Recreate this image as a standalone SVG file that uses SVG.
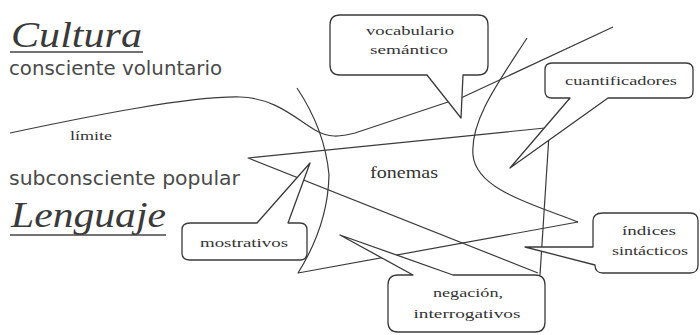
<svg xmlns="http://www.w3.org/2000/svg" width="700" height="335" viewBox="0 0 700 335">
<style>
.ln{fill:none;stroke:#3a3a3a;stroke-width:1.2;stroke-linejoin:round}
.co{fill:#fff;stroke:#3a3a3a;stroke-width:1.3;stroke-linejoin:round}
.big{font-family:"Liberation Serif","DejaVu Serif",serif;font-style:italic;font-size:36px;fill:#3a3a3a}
.sub{font-family:"DejaVu Sans","Liberation Sans",sans-serif;font-size:19px;fill:#4a4a4a}
.ct{font-family:"Liberation Serif","DejaVu Serif",serif;font-size:13px;fill:#333;text-anchor:middle}
.ul{stroke:#444;stroke-width:1.5}
</style>
<rect width="700" height="335" fill="#fff"/>
<g id="titles">
<text class="big" x="11" y="47" textLength="131" lengthAdjust="spacingAndGlyphs">Cultura</text>
<line class="ul" x1="10" y1="52" x2="143" y2="52"/>
<text class="sub" x="9" y="75" textLength="213" lengthAdjust="spacingAndGlyphs">consciente voluntario</text>
<text class="sub" x="9" y="185" textLength="231" lengthAdjust="spacingAndGlyphs">subconsciente popular</text>
<text class="big" x="11" y="227" textLength="155" lengthAdjust="spacingAndGlyphs">Lenguaje</text>
<line class="ul" x1="10" y1="235" x2="166" y2="235"/>
<text x="70" y="140" font-family="Liberation Serif, serif" font-size="12" fill="#333" textLength="42" lengthAdjust="spacingAndGlyphs">límite</text>
<text x="370" y="178" font-family="Liberation Serif, serif" font-size="17" fill="#333" textLength="68" lengthAdjust="spacingAndGlyphs">fonemas</text>
</g>
<g id="connectors">
<path class="ln" d="M10,133 C90,116 190,96 240,97 C275,98 295,118 315,130 C328,138 340,137 355,133 L463,97 L613,27"/>
<path class="ln" d="M297,88 Q325,130 329,175 Q328,225 298,273 L578,222"/>
<path class="ln" d="M527,38 C500,80 470,120 473,155 C476,190 535,205 578,222"/>
<path class="ln" d="M545,128 L248,158 L538,273"/>
<path class="ln" d="M549,135 L540,275"/>
</g>
<g id="vocabulario">
<path class="co" d="M340,15 H478 Q488,15 488,25 V65 Q488,75 478,75 H463 L461,118 L427,75 H340 Q330,75 330,65 V25 Q330,15 340,15 Z"/>
<text class="ct" x="410" y="35" textLength="88" lengthAdjust="spacingAndGlyphs">vocabulario</text>
<text class="ct" x="409" y="54" textLength="78" lengthAdjust="spacingAndGlyphs">semántico</text>
</g>
<g id="cuantificadores">
<path class="co" d="M552,63 H686 Q693,63 693,70 V91 Q693,98 686,98 H608 L510,168 L570,98 H552 Q545,98 545,91 V70 Q545,63 552,63 Z"/>
<text class="ct" x="621" y="85" textLength="112" lengthAdjust="spacingAndGlyphs">cuantificadores</text>
</g>
<g id="mostrativos">
<path class="co" d="M190,223 H257 L310,163 L288,223 H300 Q307,223 307,230 V253 Q307,260 300,260 H190 Q182,260 182,253 V230 Q182,223 190,223 Z"/>
<text class="ct" x="244" y="247" textLength="88" lengthAdjust="spacingAndGlyphs">mostrativos</text>
</g>
<g id="negacion">
<path class="co" d="M398,275 H413 L340,235 L453,275 H535 Q545,275 545,285 V322 Q545,332 535,332 H398 Q388,332 388,322 V285 Q388,275 398,275 Z"/>
<text class="ct" x="468" y="297" textLength="70" lengthAdjust="spacingAndGlyphs">negación,</text>
<text class="ct" x="467" y="318" textLength="107" lengthAdjust="spacingAndGlyphs">interrogativos</text>
</g>
<g id="indices">
<path class="co" d="M603,213 H690 Q698,213 698,221 V265 Q698,273 690,273 H603 Q595,273 595,265 L525,247 H593 V221 Q593,213 603,213 Z"/>
<text class="ct" x="649" y="235" textLength="54" lengthAdjust="spacingAndGlyphs">índices</text>
<text class="ct" x="650" y="255" textLength="76" lengthAdjust="spacingAndGlyphs">sintácticos</text>
</g>
</svg>
